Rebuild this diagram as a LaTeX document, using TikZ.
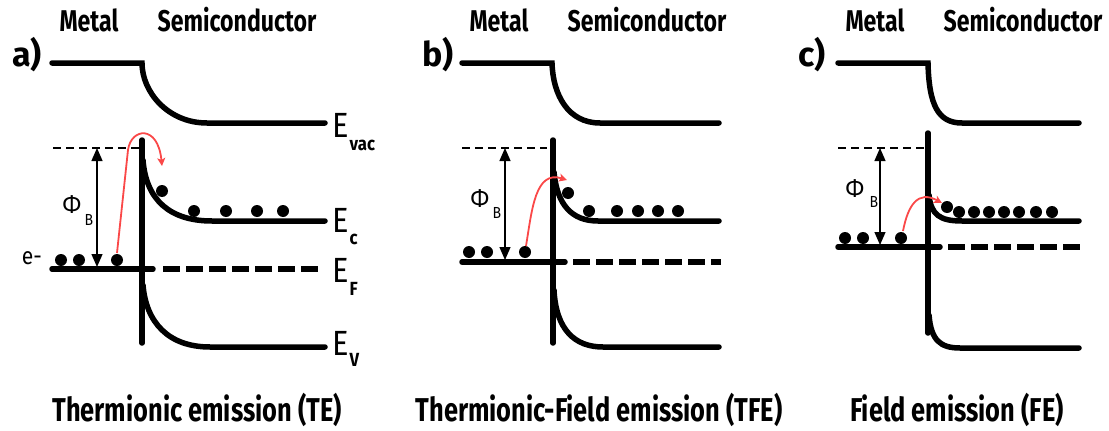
\documentclass[tikz,border=0pt]{standalone}
\usepackage{fontspec}
\setmainfont{Fira Sans}
\newfontfamily\headfont[FakeStretch=0.77]{Fira Sans}
\newfontfamily\symfont[FakeStretch=0.88]{Fira Sans}
\usepackage{xcolor}
\definecolor{hopred}{RGB}{250,72,72}
\usetikzlibrary{arrows.meta}
\newcommand{\elevel}[2]{E\kern1pt\raisebox{-#2}{\fontsize{19}{19}\selectfont\bfseries #1}}

\begin{document}
\begin{tikzpicture}[x=1pt, y=-1pt,
  band/.style={line width=5.5pt, line cap=round},
  fermi/.style={line width=5.5pt, dash pattern=on 17pt off 6pt},
  barrier/.style={line width=1.3pt, dash pattern=on 8pt off 5pt},
  phiarrow/.style={line width=1.3pt, {Triangle[length=13pt,width=11pt]}-{Triangle[length=13pt,width=11pt]}},
  hop/.style={hopred, line width=1.8pt, -{Stealth[length=8pt,width=8pt,inset=2pt]}},
  heading/.style={font=\headfont\bfseries\fontsize{30}{30}\selectfont, inner sep=0},
  caption/.style={font=\headfont\bfseries\fontsize{33}{33}\selectfont, inner sep=0},
  panel/.style={font=\bfseries\fontsize{34}{34}\selectfont, inner sep=0},
  level/.style={font=\symfont\fontsize{35}{35}\selectfont, inner sep=0, anchor=base west},
  phi/.style={font=\symfont\fontsize{26}{26}\selectfont, inner sep=0},
  phisub/.style={font=\symfont\fontsize{16}{16}\selectfont, inner sep=0}]
  \useasboundingbox (0,0) rectangle (1109,431);

  % a) thermionic emission
  \node[heading] (metalA) at (89,20) {Metal};
  \node[heading] (semiA) at (237,20) {Semiconductor};
  \node[panel] (labA) at (27,55) {a)};
  \draw[band] (52,63) -- (142,63) .. controls (142,92) and (168,123) .. (207,123) -- (325,123);
  \draw[band] (142,140) -- (142,343);
  \draw[band] (143,160) .. controls (146,200) and (170,221) .. (212,221) -- (325,221);
  \draw[band] (143,285) .. controls (146,322) and (168,347) .. (210,347) -- (325,347);
  \draw[band] (52,269) -- (153,269);
  \draw[fermi] (163,269) -- (320,269);
  \draw[barrier] (53,148) -- (140,148);
  \coordinate (topA) at (97,148);
  \coordinate (botA) at (97,267);
  \draw[phiarrow] (topA) -- (botA);
  \node[phi] (phiA) at (72,205) {Φ};
  \node[phisub] (phiBA) at (89,220) {B};
  \node[font=\symfont\fontsize{24}{24}\selectfont, inner sep=0] (eminus) at (32,258) {e-};
  \fill (61,260) circle[radius=6pt] (79,260) circle[radius=6pt] (117,260) circle[radius=6pt];
  \fill (162,191) circle[radius=6pt] (194,211) circle[radius=6pt] (226,211) circle[radius=6pt]
        (257,211) circle[radius=6pt] (283,211) circle[radius=6pt];
  \draw[hop] (117,253) -- (128,150) .. controls (131,128) and (158,124) .. (162,166);
  \node[level] (evac) at (332,137) {\elevel{vac}{13pt}};
  \node[level] (ec) at (332,232) {\elevel{c}{12pt}};
  \node[level] (ef) at (332,282) {\elevel{F}{13pt}};
  \node[level] (ev) at (332,355) {\elevel{V}{11pt}};
  \node[caption] (capA) at (197,410) {Thermionic emission (TE)};

  % b) thermionic-field emission
  \node[heading] (metalB) at (499,20) {Metal};
  \node[heading] (semiB) at (647,20) {Semiconductor};
  \node[panel] (labB) at (438,55) {b)};
  \draw[band] (462,63) -- (552,63) .. controls (553,95) and (568,123) .. (600,123) -- (719,123);
  \draw[band] (553,140) -- (553,343);
  \draw[band] (554,172) .. controls (557,205) and (572,221) .. (598,221) -- (719,221);
  \draw[band] (554,290) .. controls (556,330) and (575,347) .. (603,347) -- (719,347);
  \draw[band] (462,262) -- (565,262);
  \draw[fermi] (573,262) -- (721,262);
  \draw[barrier] (462,148) -- (547,148);
  \coordinate (topB) at (505,148);
  \coordinate (botB) at (505,260);
  \draw[phiarrow] (topB) -- (botB);
  \node[phi] (phiB) at (480,199) {Φ};
  \node[phisub] (phiBB) at (497,213) {B};
  \fill (469,252) circle[radius=6pt] (487,252) circle[radius=6pt] (525,252) circle[radius=6pt];
  \fill (568,193) circle[radius=6pt] (589,211) circle[radius=6pt] (617,211) circle[radius=6pt]
        (638,211) circle[radius=6pt] (658,211) circle[radius=6pt] (678,211) circle[radius=6pt];
  \draw[hop] (526,246) .. controls (532,210) and (535,170) .. (567,180);
  \node[caption] (capB) at (599,410) {Thermionic-Field emission (TFE)};

  % c) field emission
  \node[heading] (metalC) at (875,20) {Metal};
  \node[heading] (semiC) at (1023,20) {Semiconductor};
  \node[panel] (labC) at (812,55) {c)};
  \draw[band] (838,63) -- (928,63) .. controls (929,105) and (938,123) .. (962,123) -- (1079,123);
  \draw[band] (928,133) -- (928,333);
  \draw[band] (929,195) .. controls (931,215) and (940,221) .. (962,221) -- (1079,221);
  \draw[band] (929,315) .. controls (931,340) and (940,348) .. (960,348) -- (1079,348);
  \draw[band] (838,247) -- (940,247);
  \draw[fermi] (948,247) -- (1081,247);
  \draw[barrier] (838,148) -- (924,148);
  \coordinate (topC) at (880,148);
  \coordinate (botC) at (880,245);
  \draw[phiarrow] (topC) -- (botC);
  \node[phi] (phiC) at (855,189) {Φ};
  \node[phisub] (phiBC) at (874,202) {B};
  \fill (845,238) circle[radius=6pt] (863,238) circle[radius=6pt] (901,238) circle[radius=6pt];
  \fill (947,207) circle[radius=6pt] (959,212) circle[radius=6pt] (974,212) circle[radius=6pt]
        (989,212) circle[radius=6pt] (1004,212) circle[radius=6pt] (1019,212) circle[radius=6pt]
        (1036,212) circle[radius=6pt] (1052,212) circle[radius=6pt];
  \draw[hop] (903,231) .. controls (908,205) and (918,190) .. (942,203);
  \node[caption] (capC) at (957,410) {Field emission (FE)};
\end{tikzpicture}
\end{document}
